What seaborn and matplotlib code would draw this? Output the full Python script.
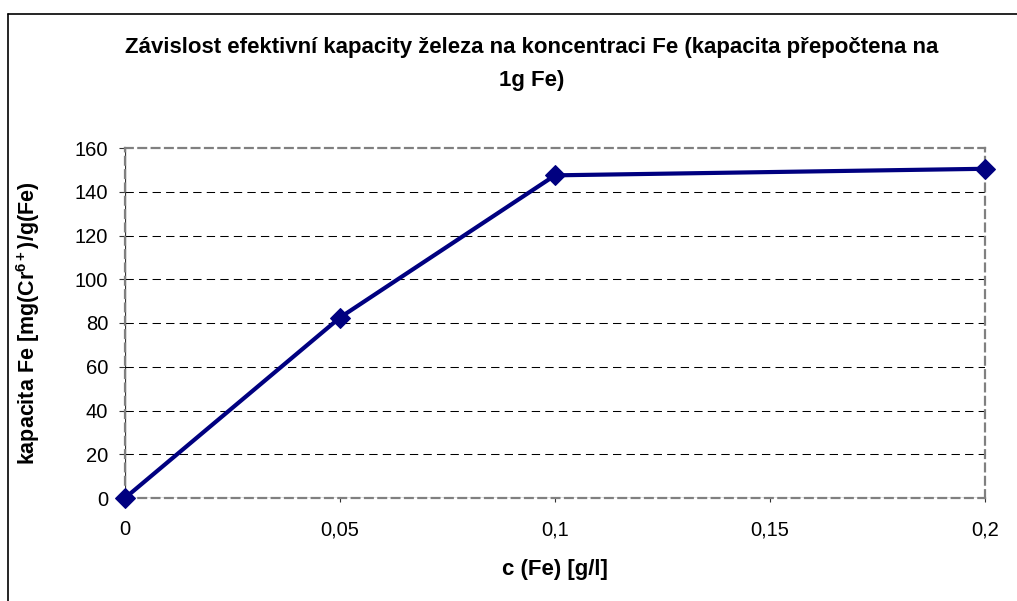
import numpy as np
import pandas as pd
import seaborn as sns
import matplotlib.pyplot as plt
from matplotlib.lines import Line2D
from matplotlib.ticker import FixedLocator

# data
conc_fe = [0.0, 0.05, 0.1, 0.2]
capacity = [0.0, 82.5, 147.5, 150.5]

x_ticks = [0, 0.05, 0.1, 0.15, 0.2]
x_tick_labels = ["0", "0,05", "0,1", "0,15", "0,2"]
y_ticks = [0, 20, 40, 60, 80, 100, 120, 140, 160]

title = "Závislost efektivní kapacity železa na koncentraci Fe (kapacita přepočtena na\n1g Fe)"
x_label = "c (Fe) [g/l]"
y_label = r"kapacita Fe [mg(Cr$^{6+}$)/g(Fe)"

sns.set_style("white")
plt.rcParams["font.family"] = ["Liberation Sans", "DejaVu Sans"]
plt.rcParams["text.color"] = "black"
plt.rcParams["mathtext.fontset"] = "custom"
plt.rcParams["mathtext.rm"] = "Liberation Sans:bold"
plt.rcParams["mathtext.it"] = "Liberation Sans:bold"
plt.rcParams["mathtext.bf"] = "Liberation Sans:bold"
plt.rcParams["mathtext.default"] = "bf"

df = pd.DataFrame({"c": conc_fe, "kap": capacity})

fig = plt.figure(figsize=(10.17, 6.01), dpi=100)
ax = fig.add_axes([125 / 1017, 1 - 498 / 601, 860 / 1017, 350 / 601])

navy = "#000080"
sns.lineplot(data=df, x="c", y="kap", ax=ax, color=navy, linewidth=3,
             marker="D", markersize=10, markeredgecolor=navy,
             markerfacecolor=navy, clip_on=False, zorder=5)

ax.set_xlim(0, 0.2)
ax.set_ylim(0, 160)
ax.xaxis.set_major_locator(FixedLocator(x_ticks))
ax.set_xticklabels(x_tick_labels)
ax.set_yticks(y_ticks)

# horizontal grid
for yv in y_ticks[1:-1]:
    ax.axhline(yv, color="black", linewidth=0.75, linestyle=(0, (8, 5)), zorder=1)

# plot area border (gray dashed) and axis lines
for side in ["top", "right", "left", "bottom"]:
    ax.spines[side].set_visible(True)
    ax.spines[side].set_color("#808080")
    ax.spines[side].set_linewidth(1.6)
    ax.spines[side].set_linestyle((0, (3.5, 2.5)))
ax.axhline(0, color="#333333", linewidth=0.9, zorder=0)
ax.axvline(0, color="#333333", linewidth=0.9, zorder=0)

ax.tick_params(axis="y", direction="out", length=4, width=0.8, color="#333333",
               labelsize=14.5, labelcolor="black", pad=8, left=True)
ax.tick_params(axis="x", direction="out", length=3, width=0.8, color="#333333",
               labelsize=14.5, labelcolor="black", pad=13, bottom=True)

ax.set_xlabel("")
ax.set_ylabel("")
fig.text(555 / 1017, 1 - 570 / 601, x_label, ha="center", va="center",
         fontsize=16, fontweight="bold", color="black")
fig.text(28 / 1017, 1 - 323 / 601, y_label, ha="center", va="center",
         rotation=90, fontsize=15.5, fontweight="bold", color="black")
fig.text(532 / 1017, 1 - 64 / 601, title, ha="center", va="center",
         fontsize=16, fontweight="bold", linespacing=1.8, color="black")

# chart frame (cut by the image edge on right and bottom)
fig.add_artist(Line2D([8 / 1017, 8 / 1017], [-0.05, 1 - 14 / 601],
                      transform=fig.transFigure, color="black", linewidth=1.2))
fig.add_artist(Line2D([8 / 1017, 1.05], [1 - 14 / 601, 1 - 14 / 601],
                      transform=fig.transFigure, color="black", linewidth=1.2))

fig.savefig("out.png", dpi=100)
